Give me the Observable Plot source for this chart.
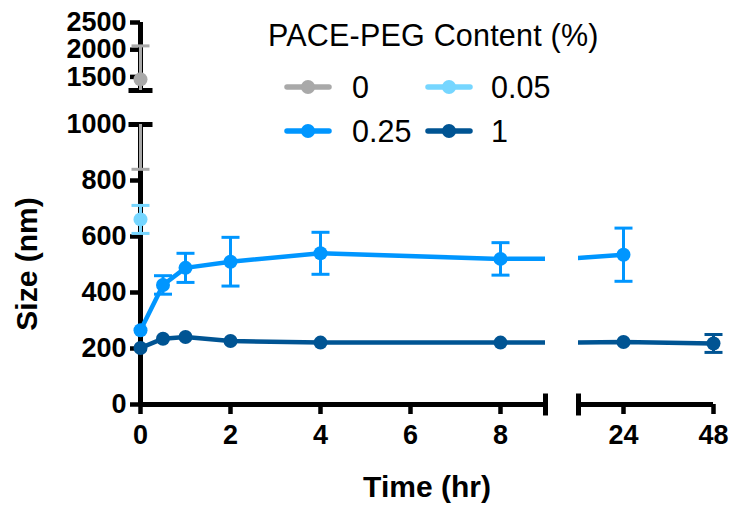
<!DOCTYPE html>
<html>
<head>
<meta charset="utf-8">
<script src="https://cdn.jsdelivr.net/npm/d3@7"></script>
<script src="https://cdn.jsdelivr.net/npm/@observablehq/plot@0.6"></script>
<style>
html, body { margin: 0; padding: 0; background: #fff; }
#chart { position: relative; width: 736px; height: 506px; overflow: hidden; font-family: "Liberation Sans", Arial, sans-serif; color: #000; }
#chart svg.panel { position: absolute; left: 0; top: 0; }
.abs { position: absolute; white-space: nowrap; }
.axtitle { font-weight: bold; font-size: 30px; line-height: 30px; text-align: center; width: 200px; }
.legtitle { font-size: 30.5px; line-height: 30px; letter-spacing: 0.2px; }
.leglabel { font-size: 30.5px; line-height: 30px; }
</style>
</head>
<body>
<div id="chart"></div>
<script>
// ---------- data ----------
const seriesNames = ["0", "0.05", "0.25", "1"];
const seriesColors = ["#a9a9a9", "#76d6ff", "#0096ff", "#005493"];

const time_0 = [0];
const mean_0 = [1455];
const sd_0 = [615];

const time_005 = [0];
const mean_005 = [661];
const sd_005 = [50];

const time_025 = [0, 0.5, 1, 2, 4, 8, 24];
const mean_025 = [265, 427, 488, 510, 540, 520, 535];
const sd_025 = [null, 33, 52, 87, 75, 58, 95];

const time_1 = [0, 0.5, 1, 2, 4, 8, 24, 48];
const mean_1 = [202, 235, 241, 227, 221, 221, 223, 218];
const sd_1 = [null, null, null, null, null, null, null, 32];

const xTicksLeft = [0, 2, 4, 6, 8];
const xTicksRight = [24, 48];
const yTicksLower = [0, 200, 400, 600, 800, 1000];
const yTicksUpper = [1500, 2000, 2500];

const legendTitle = "PACE-PEG Content (%)";
const xTitle = "Time (hr)";
const yTitle = "Size (nm)";

// ---------- tidy table ----------
const rows = [];
function addSeries(name, t, m, s) {
  t.forEach((x, i) => rows.push({ series: name, time: x, mean: m[i], sd: s[i] }));
}
addSeries("0", time_0, mean_0, sd_0);
addSeries("0.05", time_005, mean_005, sd_005);
addSeries("0.25", time_025, mean_025, sd_025);
addSeries("1", time_1, mean_1, sd_1);

// custom cap symbols (half-length = r)
const hline = { draw(c, s) { const r = Math.sqrt(s / Math.PI); c.moveTo(-r, 0); c.lineTo(r, 0); } };
const vline = { draw(c, s) { const r = Math.sqrt(s / Math.PI); c.moveTo(0, -r); c.lineTo(0, r); } };

const W = 736, H = 506;
const colorScale = { type: "ordinal", domain: seriesNames, range: seriesColors };
const style = { fontFamily: "'Liberation Sans', Arial, sans-serif", background: "transparent", overflow: "visible", color: "#000" };
const AX = 4.5; // axis stroke
const tickFont = { fontSize: 27, fontWeight: "bold", tickFormat: d => String(d) };

function dataMarks(xd, yd) {
  const inX = d => d.time >= xd[0] && d.time <= xd[1];
  const inY = v => v >= yd[0] && v <= yd[1];
  const withErr = rows.filter(d => d.sd != null);
  const bars = withErr.filter(d => inX(d) && d.mean - d.sd < yd[1] && d.mean + d.sd > yd[0]);
  const caps = withErr.flatMap(d => [d.mean - d.sd, d.mean + d.sd].map(v => ({ ...d, v })))
                      .filter(d => inX(d) && inY(d.v));
  const pts = rows.filter(d => inX(d) && inY(d.mean));
  return [
    Plot.line(rows, { x: "time", y: "mean", z: "series", stroke: "series", strokeWidth: 4.5, clip: true }),
    Plot.ruleX(bars, { x: "time", y1: d => Math.max(d.mean - d.sd, yd[0]), y2: d => Math.min(d.mean + d.sd, yd[1]), stroke: "series", strokeWidth: 3 }),
    Plot.dot(caps, { x: "time", y: "v", symbol: hline, r: 9, stroke: "series", fill: "none", strokeWidth: 3 }),
    Plot.dot(pts, { x: "time", y: "mean", r: 7, fill: "series", stroke: "none" })
  ];
}

const chart = document.getElementById("chart");

const xdL = [0, 9], ydLow = [0, 1000], ydUp = [1250, 2500], xdR = [12, 48];

// lower-left panel: time 0..9, size 0..1000
const lowerLeft = Plot.plot({
  width: W, height: H,
  marginLeft: 140, marginRight: 191, marginTop: 124, marginBottom: 102,
  x: { domain: xdL }, y: { domain: ydLow }, color: colorScale, style,
  marks: [
    Plot.axisY(yTicksLower, { tickSize: 10, tickPadding: 4, strokeWidth: AX, label: null, ...tickFont }),
    Plot.axisX(xTicksLeft, { tickSize: 10, tickPadding: 10, strokeWidth: AX, label: null, ...tickFont }),
    Plot.ruleX([xdL[0]], { strokeWidth: 5 }),
    Plot.ruleY([ydLow[0]], { strokeWidth: 5 }),
    Plot.dot([{ x: xdL[0], y: ydLow[1] }], { x: "x", y: "y", symbol: hline, r: 12, stroke: "#000", strokeWidth: 5 }),
    Plot.dot([{ x: xdL[1], y: ydLow[0] }], { x: "x", y: "y", symbol: vline, r: 11, stroke: "#000", strokeWidth: 5 }),
    ...dataMarks(xdL, ydLow)
  ]
});

// lower-right panel: time 12..48
const lowerRight = Plot.plot({
  width: W, height: H,
  marginLeft: 578, marginRight: 23, marginTop: 124, marginBottom: 102,
  x: { domain: xdR }, y: { domain: ydLow, axis: null }, color: colorScale, style,
  marks: [
    Plot.axisX(xTicksRight, { tickSize: 10, tickPadding: 10, strokeWidth: AX, label: null, ...tickFont }),
    Plot.ruleY([ydLow[0]], { strokeWidth: 5 }),
    Plot.dot([{ x: xdR[0], y: ydLow[0] }], { x: "x", y: "y", symbol: vline, r: 11, stroke: "#000", strokeWidth: 5 }),
    ...dataMarks(xdR, ydLow)
  ]
});

// upper panel: size 1250..2500
const upper = Plot.plot({
  width: W, height: H,
  marginLeft: 140, marginRight: 191, marginTop: 22, marginBottom: 416,
  x: { domain: xdL, axis: null }, y: { domain: ydUp }, color: colorScale, style,
  marks: [
    Plot.axisY(yTicksUpper, { tickSize: 10, tickPadding: 4, strokeWidth: AX, label: null, ...tickFont }),
    Plot.ruleX([xdL[0]], { strokeWidth: 5 }),
    Plot.dot([{ x: xdL[0], y: ydUp[0] }], { x: "x", y: "y", symbol: hline, r: 12, stroke: "#000", strokeWidth: 5 }),
    ...dataMarks(xdL, ydUp)
  ]
});

for (const p of [lowerLeft, lowerRight, upper]) {
  p.classList.add("panel");
  chart.appendChild(p);
}

// axis titles
function addDiv(cls, text, css) {
  const d = document.createElement("div");
  d.className = "abs " + cls;
  d.textContent = text;
  Object.assign(d.style, css);
  chart.appendChild(d);
  return d;
}
addDiv("axtitle", xTitle, { left: "327px", top: "472px" });
addDiv("axtitle", yTitle, { left: "-73px", top: "249px", transform: "rotate(-90deg)" });

// legend
addDiv("legtitle", legendTitle, { left: "268px", top: "20px" });
const swatchX = [308, 449], labelX = [352, 491], rowY = [87, 131];
seriesNames.forEach((name, i) => {
  const col = i % 2, row = Math.floor(i / 2);
  const ns = "http://www.w3.org/2000/svg";
  const svg = document.createElementNS(ns, "svg");
  svg.setAttribute("width", 52); svg.setAttribute("height", 18);
  svg.style.position = "absolute";
  svg.style.left = (swatchX[col] - 26) + "px";
  svg.style.top = (rowY[row] - 9) + "px";
  const ln = document.createElementNS(ns, "line");
  ln.setAttribute("x1", 5); ln.setAttribute("x2", 47); ln.setAttribute("y1", 9); ln.setAttribute("y2", 9);
  ln.setAttribute("stroke", seriesColors[i]); ln.setAttribute("stroke-width", 5.5); ln.setAttribute("stroke-linecap", "round");
  const c = document.createElementNS(ns, "circle");
  c.setAttribute("cx", 26); c.setAttribute("cy", 9); c.setAttribute("r", 7); c.setAttribute("fill", seriesColors[i]);
  svg.appendChild(ln); svg.appendChild(c);
  chart.appendChild(svg);
  addDiv("leglabel", name, { left: labelX[col] + "px", top: (rowY[row] - 15) + "px" });
});
</script>
</body>
</html>
